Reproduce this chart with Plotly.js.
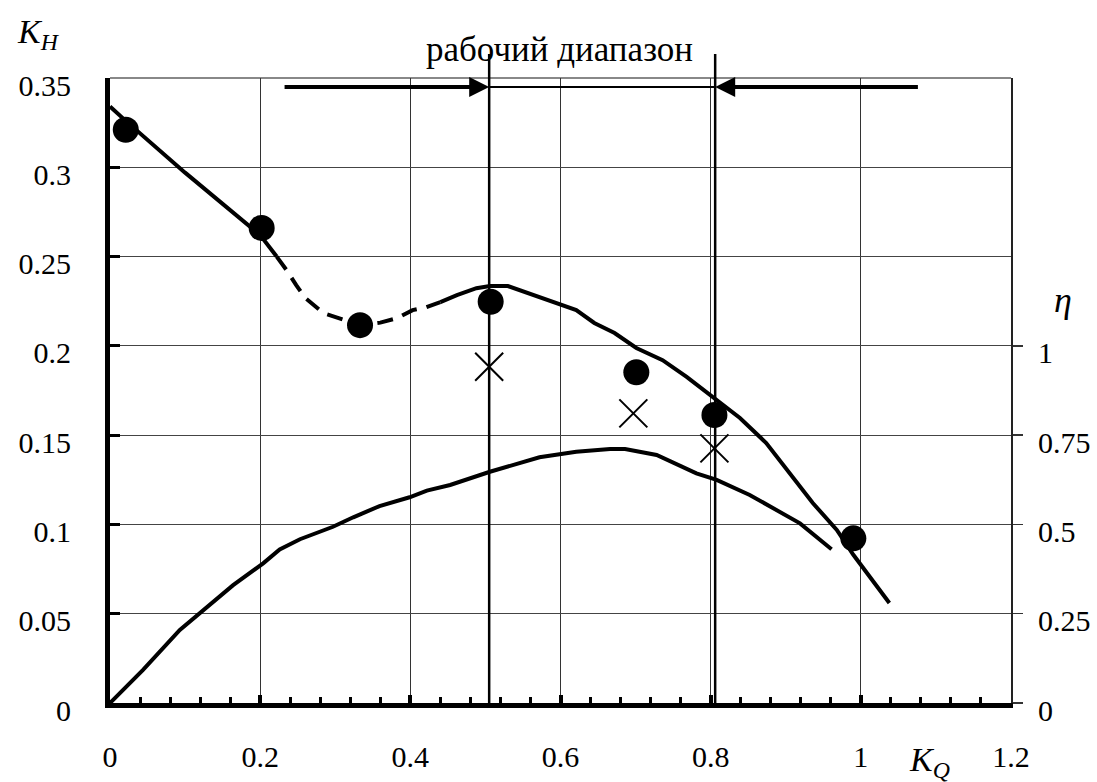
<!DOCTYPE html>
<html>
<head>
<meta charset="utf-8">
<script src="https://cdn.plot.ly/plotly-3.0.1.min.js"></script>
<style>
  html, body { margin: 0; padding: 0; background: #fff; }
  #chart { width: 1097px; height: 782px; }
</style>
</head>
<body>
<div id="chart"></div>
<script>
// Head coefficient K_H versus flow coefficient K_Q (solid / dashed / solid)
const kqHeadA = [0, 0.021, 0.10, 0.20, 0.222];
const khHeadA = [0.334, 0.326, 0.297, 0.262, 0.250];

const kqHeadDash = [0.222, 0.235, 0.248, 0.26, 0.284, 0.304, 0.333, 0.36, 0.383, 0.403, 0.42, 0.44];
const khHeadDash = [0.250, 0.2425, 0.234, 0.2268, 0.2184, 0.2156, 0.2116, 0.2130, 0.2156, 0.2200, 0.2215, 0.2245];

const kqHeadB = [0.44, 0.462, 0.488, 0.506, 0.530, 0.556, 0.596, 0.621, 0.645, 0.672, 0.701, 0.736,
                 0.768, 0.805, 0.839, 0.874, 0.909, 0.936, 0.968, 0.99, 1.038];
const khHeadB = [0.2245, 0.2284, 0.2323, 0.2335, 0.2335, 0.2296, 0.224, 0.220, 0.2128, 0.2072, 0.1988, 0.192,
                 0.1826, 0.1707, 0.1596, 0.1456, 0.1266, 0.112, 0.0969, 0.083, 0.056];

// Efficiency curve (right axis)
const kqEta = [0, 0.044, 0.093, 0.124, 0.164, 0.204, 0.226, 0.253, 0.297, 0.324, 0.359, 0.399, 0.422,
               0.453, 0.506, 0.572, 0.621, 0.666, 0.686, 0.728, 0.781, 0.808, 0.852, 0.919, 0.961];
const etaCurve = [0, 0.0925, 0.2045, 0.26, 0.33, 0.391, 0.43, 0.4585, 0.4935, 0.52, 0.5515, 0.576, 0.5945,
                  0.6105, 0.6475, 0.688, 0.7035, 0.711, 0.711, 0.6945, 0.643, 0.6245, 0.5825, 0.503, 0.4305];

// Measured points
const kqDots = [0.021, 0.202, 0.333, 0.507, 0.701, 0.805, 0.990];
const khDots = [0.321, 0.266, 0.2116, 0.2247, 0.1852, 0.1613, 0.0922];

const kqCross = [0.505, 0.697, 0.805];
const khCross = [0.1883, 0.1622, 0.1426];

// Working range markers
const rangeStart = 0.505;
const rangeEnd = 0.806;
const rangeLineTop = 0.3634;
const arrowLevel = 0.345;
const arrowTailLeft = 0.2305;
const arrowTailRight = 1.078;
const rangeLabel = 'рабочий диапазон';

// Axis ticks
const xTicks = [0, 0.2, 0.4, 0.6, 0.8, 1, 1.2];
const xTickText = ['0', '0.2', '0.4', '0.6', '0.8', '1', '1.2'];
const yTicks = [0, 0.05, 0.1, 0.15, 0.2, 0.25, 0.3, 0.35];
const yTickText = ['0', '0.05', '0.1', '0.15', '0.2', '0.25', '0.3', '0.35'];
const etaTicks = [0, 0.25, 0.5, 0.75, 1];
const etaTickText = ['0', '0.25', '0.5', '0.75', '1'];

const xRange = [0, 1.2];
const yRange = [0, 0.35];
const etaRange = [0, 1.75];

const serif = 'Liberation Serif, serif';
const curveLine = { color: '#000', width: 4 };

const traces = [
  { x: kqHeadA, y: khHeadA, mode: 'lines', line: curveLine, hoverinfo: 'skip' },
  { x: kqHeadDash, y: khHeadDash, mode: 'lines', line: { color: '#000', width: 4, dash: '16px,10px' }, hoverinfo: 'skip' },
  { x: kqHeadB, y: khHeadB, mode: 'lines', line: curveLine, hoverinfo: 'skip' },
  { x: kqEta, y: etaCurve, yaxis: 'y2', mode: 'lines', line: curveLine, hoverinfo: 'skip' },
  { x: [rangeStart, rangeEnd], y: [arrowLevel, arrowLevel], mode: 'lines',
    line: { color: '#000', width: 2 }, hoverinfo: 'skip' },
  { x: kqDots, y: khDots, mode: 'markers', marker: { symbol: 'circle', size: 26, color: '#000' }, hoverinfo: 'skip' },
  { x: kqCross, y: khCross, mode: 'markers',
    marker: { symbol: 'x-thin-open', size: 28, color: '#000', line: { color: '#000', width: 2 } }, hoverinfo: 'skip' }
];

const paperTop = rangeLineTop / (yRange[1] - yRange[0]);

const layout = {
  width: 1097,
  height: 782,
  margin: { l: 110, r: 86, t: 78, b: 79 },
  paper_bgcolor: '#fff',
  plot_bgcolor: '#fff',
  showlegend: false,
  font: { family: serif, size: 30, color: '#000' },
  xaxis: {
    range: xRange,
    tickvals: xTicks,
    ticktext: xTickText,
    ticks: 'inside',
    ticklen: 8,
    tickwidth: 4,
    tickcolor: '#000',
    ticklabelstandoff: 23,
    showline: true,
    linewidth: 5,
    linecolor: '#000',
    showgrid: true,
    gridcolor: '#333',
    gridwidth: 1.2,
    zeroline: false,
    minor: { dtick: 0.04, tick0: 0, ticks: 'inside', ticklen: 6, tickwidth: 3, tickcolor: '#000', showgrid: false },
    fixedrange: true
  },
  yaxis: {
    range: yRange,
    tickvals: yTicks,
    ticktext: yTickText,
    ticks: 'inside',
    ticklen: 10,
    tickwidth: 3,
    tickcolor: '#000',
    ticklabelstandoff: 28,
    ticklabelshift: 7,
    showline: true,
    linewidth: 5,
    linecolor: '#000',
    showgrid: true,
    gridcolor: '#444',
    gridwidth: 1.2,
    zeroline: false,
    fixedrange: true
  },
  yaxis2: {
    overlaying: 'y',
    side: 'right',
    range: etaRange,
    tickvals: etaTicks,
    ticktext: etaTickText,
    ticks: 'outside',
    ticklen: 10,
    tickwidth: 1.5,
    tickcolor: '#333',
    ticklabelstandoff: 9,
    ticklabelshift: 7,
    showline: true,
    linewidth: 2,
    linecolor: '#222',
    showgrid: false,
    zeroline: false,
    fixedrange: true
  },
  shapes: [
    { type: 'line', xref: 'x', yref: 'paper', x0: rangeStart, x1: rangeStart, y0: 0, y1: paperTop,
      line: { color: '#000', width: 2.5 }, layer: 'above' },
    { type: 'line', xref: 'x', yref: 'paper', x0: rangeEnd, x1: rangeEnd, y0: 0, y1: paperTop,
      line: { color: '#000', width: 2.5 }, layer: 'above' },
    { type: 'line', xref: 'paper', yref: 'paper', x0: 0, x1: 1, y0: 1, y1: 1,
      line: { color: '#888', width: 2 }, layer: 'below' }
  ],
  annotations: [
    { x: rangeStart, y: arrowLevel, xref: 'x', yref: 'y', ax: arrowTailLeft, ay: arrowLevel,
      axref: 'x', ayref: 'y', text: ' ', font: { size: 1 }, showarrow: true, arrowhead: 2, arrowsize: 1,
      arrowwidth: 4, arrowcolor: '#000', standoff: 0 },
    { x: rangeEnd, y: arrowLevel, xref: 'x', yref: 'y', ax: arrowTailRight, ay: arrowLevel,
      axref: 'x', ayref: 'y', text: ' ', font: { size: 1 }, showarrow: true, arrowhead: 2, arrowsize: 1,
      arrowwidth: 4, arrowcolor: '#000', standoff: 0 },
    { x: 0.599, y: 1.045, xref: 'x', yref: 'paper', text: rangeLabel, showarrow: false,
      xanchor: 'center', yanchor: 'middle', font: { family: serif, size: 35, color: '#000' } },
    { x: -0.105, y: 1.07, xref: 'paper', yref: 'paper', text: '<i>K</i><sub><i>H</i></sub>', showarrow: false,
      xanchor: 'left', yanchor: 'middle', font: { family: serif, size: 34, color: '#000' } },
    { x: 1.058, y: 0.645, xref: 'paper', yref: 'paper', text: '<i>η</i>', showarrow: false,
      xanchor: 'center', yanchor: 'middle', font: { family: serif, size: 36, color: '#000' } },
    { x: 0.885, y: -0.095, xref: 'paper', yref: 'paper', text: '<i>K</i><sub><i>Q</i></sub>', showarrow: false,
      xanchor: 'left', yanchor: 'middle', font: { family: serif, size: 34, color: '#000' } }
  ]
};

Plotly.newPlot('chart', traces, layout, { displayModeBar: false, staticPlot: true });
</script>
</body>
</html>
